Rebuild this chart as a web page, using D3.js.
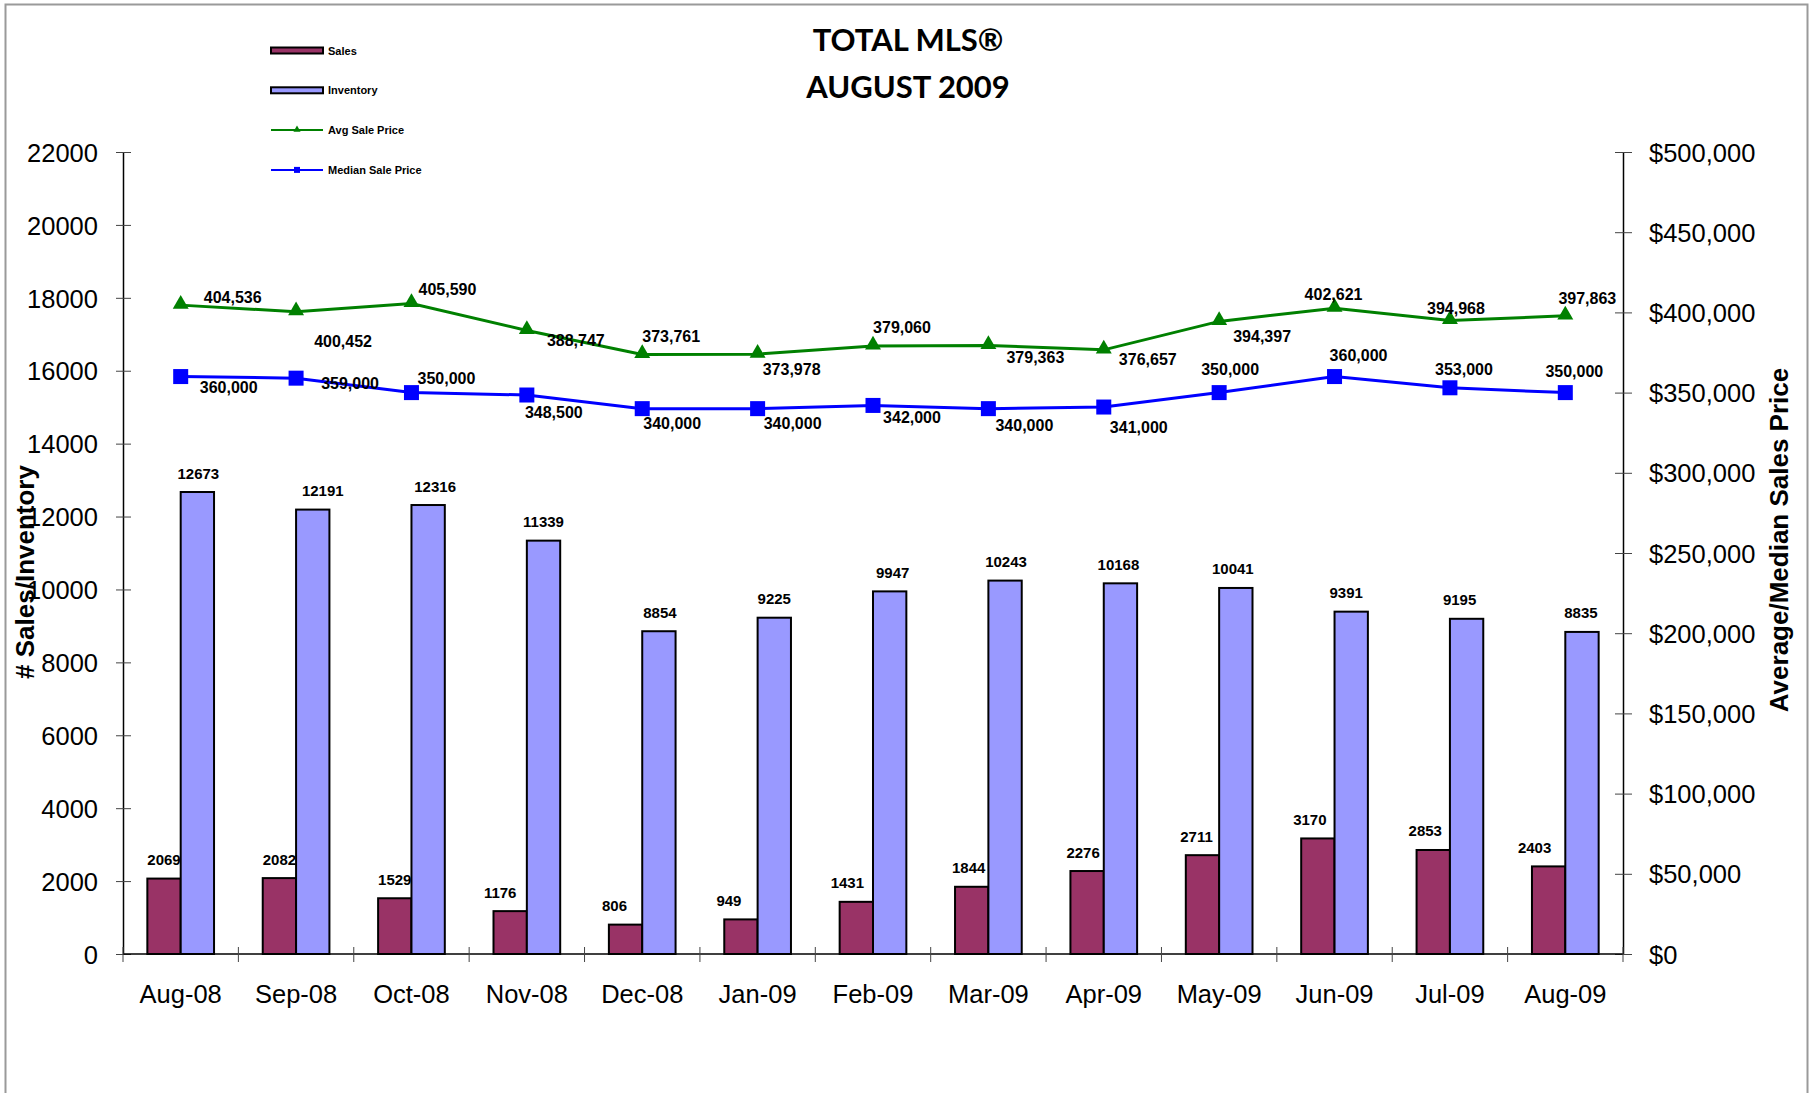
<!DOCTYPE html>
<html>
<head>
<meta charset="utf-8">
<script src="https://cdn.jsdelivr.net/npm/d3@7"></script>
<style>
  body { margin: 0; background: #fff; }
  svg text { font-family: "Liberation Sans", Arial, sans-serif; }
</style>
</head>
<body>
<div id="chart"></div>
<script>
// chart data
const months = ["Aug-08", "Sep-08", "Oct-08", "Nov-08", "Dec-08", "Jan-09", "Feb-09",
  "Mar-09", "Apr-09", "May-09", "Jun-09", "Jul-09", "Aug-09"];
const sales = [2069, 2082, 1529, 1176, 806, 949, 1431, 1844, 2276, 2711, 3170, 2853, 2403];
const inventory = [12673, 12191, 12316, 11339, 8854, 9225, 9947, 10243, 10168, 10041, 9391, 9195, 8835];
const avgPrice = [404536, 400452, 405590, 388747, 373761, 373978, 379060, 379363, 376657,
  394397, 402621, 394968, 397863];
const medianPrice = [360000, 359000, 350000, 348500, 340000, 340000, 342000, 340000, 341000,
  350000, 360000, 353000, 350000];
const leftTicks = [0, 2000, 4000, 6000, 8000, 10000, 12000, 14000, 16000, 18000, 20000, 22000];
const rightTicks = [0, 50000, 100000, 150000, 200000, 250000, 300000, 350000, 400000, 450000, 500000];

// label placement (offset of label centre from its point), as in the original
const avgLabelOffset = [[52, -8], [47, 30], [36, -14], [49, 10], [29, -18], [34, 15], [29, -18],
  [47, 12], [44, 10], [43, 15], [-1, -14], [6, -12], [22, -17]];
const medLabelOffset = [[48, 11], [54, 5], [35, -14], [27, 17], [30, 15], [35, 15], [39, 12],
  [36, 17], [35, 20], [11, -23], [24, -21], [14, -18], [9, -21]];
const salesLabelDx = [0, 0, 0, -10, -11, -12, -9, -3, -4, -6, -8, -8, -14];
const invLabelDx = [1, 10, 7, 0, 1, 0, 3, 1, -2, -3, -5, -7, -1];

const width = 1813, height = 1093;
const margin = { left: 123, right: 1623, top: 152, bottom: 954 };

const svg = d3.select("#chart").append("svg")
  .attr("width", width)
  .attr("height", height);

// outer frame
svg.append("rect")
  .attr("x", 5.5).attr("y", 4.5)
  .attr("width", 1802).attr("height", 1200)
  .attr("fill", "none")
  .attr("stroke", "#9a9a9a")
  .attr("stroke-width", 2);

var x = d3.scaleBand().domain(months).range([margin.left, margin.right]);
var yLeft = d3.scaleLinear().domain([0, 22000]).range([margin.bottom, margin.top]);
var yRight = d3.scaleLinear().domain([0, 500000]).range([margin.bottom, margin.top]);
var barW = x.bandwidth() * 0.289;
var cx = (m) => x(m) + x.bandwidth() / 2;

// left axis
var leftAxis = svg.append("g")
  .attr("transform", `translate(${margin.left},0)`)
  .call(d3.axisLeft(yLeft).tickValues(leftTicks).tickFormat(d3.format("d")).tickSizeOuter(0));
leftAxis.select(".domain").attr("stroke", "#000").attr("stroke-width", 1.5);
leftAxis.selectAll(".tick line").attr("x1", 8).attr("x2", -7).attr("stroke", "#444");
leftAxis.selectAll(".tick text")
  .attr("x", -25)
  .attr("dy", "0.36em")
  .style("font-size", "25.5px")
  .attr("fill", "#000");

// right axis
var rightAxis = svg.append("g")
  .attr("transform", `translate(${margin.right},0)`)
  .call(d3.axisRight(yRight).tickValues(rightTicks).tickFormat((d) => "$" + d3.format(",")(d)).tickSizeOuter(0));
rightAxis.select(".domain").attr("stroke", "#000").attr("stroke-width", 1.5);
rightAxis.selectAll(".tick line").attr("x1", -8).attr("x2", 9).attr("stroke", "#444");
rightAxis.selectAll(".tick text")
  .attr("x", 26)
  .attr("dy", "0.36em")
  .style("font-size", "25.5px")
  .attr("fill", "#000");

// bars
svg.append("g").selectAll("rect")
  .data(months)
  .join("rect")
  .attr("x", (d) => cx(d) - barW)
  .attr("y", (d, i) => yLeft(sales[i]))
  .attr("width", barW)
  .attr("height", (d, i) => margin.bottom - yLeft(sales[i]))
  .attr("fill", "#993366")
  .attr("stroke", "#000")
  .attr("stroke-width", 2);

svg.append("g").selectAll("rect")
  .data(months)
  .join("rect")
  .attr("x", (d) => cx(d))
  .attr("y", (d, i) => yLeft(inventory[i]))
  .attr("width", barW)
  .attr("height", (d, i) => margin.bottom - yLeft(inventory[i]))
  .attr("fill", "#9999FF")
  .attr("stroke", "#000")
  .attr("stroke-width", 2);

// bottom axis
var xAxis = svg.append("g");
xAxis.append("line")
  .attr("x1", margin.left).attr("x2", margin.right)
  .attr("y1", margin.bottom).attr("y2", margin.bottom)
  .attr("stroke", "#000").attr("stroke-width", 1.5);
xAxis.selectAll(".cat-tick")
  .data(d3.range(months.length + 1))
  .join("line")
  .attr("class", "cat-tick")
  .attr("x1", (i) => margin.left + i * x.bandwidth())
  .attr("x2", (i) => margin.left + i * x.bandwidth())
  .attr("y1", margin.bottom - 7)
  .attr("y2", margin.bottom + 8)
  .attr("stroke", "#444");
xAxis.selectAll("text")
  .data(months)
  .join("text")
  .attr("x", (d) => cx(d))
  .attr("y", 1003)
  .attr("text-anchor", "middle")
  .style("font-size", "25.5px")
  .text((d) => d);

// bar labels
svg.append("g").selectAll("text")
  .data(months)
  .join("text")
  .attr("x", (d, i) => cx(d) - barW / 2 + salesLabelDx[i])
  .attr("y", (d, i) => yLeft(sales[i]) - 19)
  .attr("text-anchor", "middle")
  .attr("dominant-baseline", "central")
  .style("font-size", "15px")
  .style("font-weight", "bold")
  .text((d, i) => sales[i]);

svg.append("g").selectAll("text")
  .data(months)
  .join("text")
  .attr("x", (d, i) => cx(d) + barW / 2 + invLabelDx[i])
  .attr("y", (d, i) => yLeft(inventory[i]) - 19)
  .attr("text-anchor", "middle")
  .attr("dominant-baseline", "central")
  .style("font-size", "15px")
  .style("font-weight", "bold")
  .text((d, i) => inventory[i]);

// price lines
var line = d3.line().x((d) => cx(d.m)).y((d) => yRight(d.v));
var avgPts = months.map((m, i) => ({ m: m, v: avgPrice[i] }));
var medPts = months.map((m, i) => ({ m: m, v: medianPrice[i] }));

svg.append("path")
  .attr("d", line(avgPts))
  .attr("fill", "none")
  .attr("stroke", "#008000")
  .attr("stroke-width", 3);

svg.append("path")
  .attr("d", line(medPts))
  .attr("fill", "none")
  .attr("stroke", "#0000FF")
  .attr("stroke-width", 3);

var tri = d3.symbol().type(d3.symbolTriangle).size(110);
svg.append("g").selectAll("path")
  .data(avgPts)
  .join("path")
  .attr("d", tri)
  .attr("transform", (d) => `translate(${cx(d.m)},${yRight(d.v) - 1})`)
  .attr("fill", "#008000");

svg.append("g").selectAll("rect")
  .data(medPts)
  .join("rect")
  .attr("x", (d) => cx(d.m) - 7.5)
  .attr("y", (d) => yRight(d.v) - 7.5)
  .attr("width", 15)
  .attr("height", 15)
  .attr("fill", "#0000FF");

var fmt = d3.format(",");
svg.append("g").selectAll("text")
  .data(avgPts)
  .join("text")
  .attr("x", (d, i) => cx(d.m) + avgLabelOffset[i][0])
  .attr("y", (d, i) => yRight(d.v) + avgLabelOffset[i][1])
  .attr("text-anchor", "middle")
  .attr("dominant-baseline", "central")
  .style("font-size", "16px")
  .style("font-weight", "bold")
  .text((d) => fmt(d.v));

svg.append("g").selectAll("text")
  .data(medPts)
  .join("text")
  .attr("x", (d, i) => cx(d.m) + medLabelOffset[i][0])
  .attr("y", (d, i) => yRight(d.v) + medLabelOffset[i][1])
  .attr("text-anchor", "middle")
  .attr("dominant-baseline", "central")
  .style("font-size", "16px")
  .style("font-weight", "bold")
  .text((d) => fmt(d.v));

// axis titles
svg.append("text")
  .attr("transform", "translate(34,572) rotate(-90)")
  .attr("text-anchor", "middle")
  .style("font-size", "26px")
  .style("font-weight", "bold")
  .text("# Sales/Inventory");

svg.append("text")
  .attr("transform", "translate(1788,540) rotate(-90)")
  .attr("text-anchor", "middle")
  .style("font-size", "26px")
  .style("font-weight", "bold")
  .text("Average/Median Sales Price");

// title
var title = svg.append("text")
  .attr("text-anchor", "middle")
  .style("font-family", "Lato, 'Open Sans', sans-serif")
  .style("font-weight", "bold")
  .style("font-size", "31px");
title.append("tspan").attr("x", 908).attr("y", 51).text("TOTAL MLS®");
title.append("tspan").attr("x", 908).attr("y", 98).text("AUGUST 2009");

// legend
var legendItems = [
  { name: "Sales", type: "bar", color: "#993366" },
  { name: "Inventory", type: "bar", color: "#9999FF" },
  { name: "Avg Sale Price", type: "tri", color: "#008000" },
  { name: "Median Sale Price", type: "sq", color: "#0000FF" }
];
var legend = svg.append("g")
  .selectAll("g")
  .data(legendItems)
  .join("g")
  .attr("transform", (d, i) => `translate(271,${50.5 + i * 39.8})`);

legend.filter((d) => d.type === "bar")
  .append("rect")
  .attr("x", 0).attr("y", -3)
  .attr("width", 52).attr("height", 6)
  .attr("fill", (d) => d.color)
  .attr("stroke", "#000")
  .attr("stroke-width", 2);

legend.filter((d) => d.type !== "bar")
  .append("line")
  .attr("x1", 0).attr("x2", 52)
  .attr("stroke", (d) => d.color)
  .attr("stroke-width", 2);

legend.filter((d) => d.type === "tri")
  .append("path")
  .attr("d", d3.symbol().type(d3.symbolTriangle).size(22))
  .attr("transform", "translate(26,-0.5)")
  .attr("fill", (d) => d.color);

legend.filter((d) => d.type === "sq")
  .append("rect")
  .attr("x", 23).attr("y", -3)
  .attr("width", 6).attr("height", 6)
  .attr("fill", (d) => d.color);

legend.append("text")
  .attr("x", 57)
  .attr("dominant-baseline", "central")
  .style("font-size", "11px")
  .style("font-weight", "bold")
  .text((d) => d.name);
</script>
</body>
</html>
